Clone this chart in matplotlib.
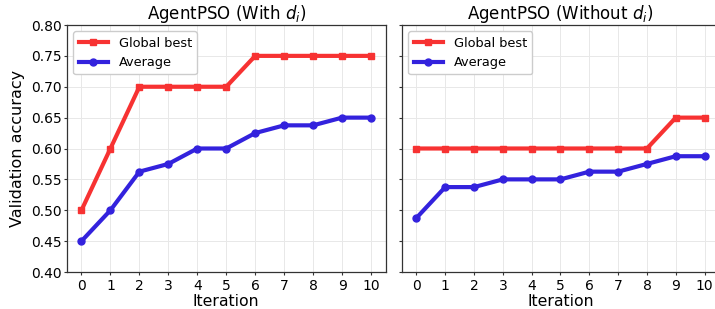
import numpy as np
import matplotlib
matplotlib.use("Agg")
import matplotlib.pyplot as plt

iterations = list(range(11))
best_with = [0.50, 0.60, 0.70, 0.70, 0.70, 0.70, 0.75, 0.75, 0.75, 0.75, 0.75]
avg_with = [0.45, 0.50, 0.5625, 0.575, 0.60, 0.60, 0.625, 0.6375, 0.6375, 0.65, 0.65]
best_without = [0.60, 0.60, 0.60, 0.60, 0.60, 0.60, 0.60, 0.60, 0.60, 0.65, 0.65]
avg_without = [0.4875, 0.5375, 0.5375, 0.55, 0.55, 0.55, 0.5625, 0.5625, 0.575, 0.5875, 0.5875]
titles = ["AgentPSO (With $d_i$)", "AgentPSO (Without $d_i$)"]

red = "#f73232"
blue = "#3322dd"

fig = plt.figure(figsize=(7.15, 3.09), dpi=100)
ax1 = fig.add_axes([67/715, 1-272/309, 318.5/715, 247/309])
ax2 = fig.add_axes([402/715, 1-272/309, 317/715, 247/309], sharey=ax1)

for ax, best, avg, title in [(ax1, best_with, avg_with, titles[0]),
                             (ax2, best_without, avg_without, titles[1])]:
    ax.plot(iterations, best, color=red, marker="s", lw=3, ms=5, label="Global best")
    ax.plot(iterations, avg, color=blue, marker="o", lw=3, ms=5, label="Average")
    ax.set_title(title, fontsize=12, pad=3)
    ax.set_xlabel("Iteration", fontsize=11.3, labelpad=1)
    ax.set_xticks(iterations)
    ax.set_xlim(-0.5, 10.5)
    ax.grid(True, color="#e8e8e8", lw=0.7)
    ax.tick_params(labelsize=10, length=2.5, width=0.8, pad=2.5, color="#333333")
    for s in ax.spines.values():
        s.set_color("#333333")
        s.set_linewidth(0.9)
    ax.legend(loc="upper left", fontsize=9.3, handlelength=2.3, borderaxespad=0.5,
              framealpha=1, edgecolor="#cccccc")

ax1.set_ylim(0.40, 0.80)
ax1.set_yticks(np.arange(0.40, 0.801, 0.05))
ax1.yaxis.set_major_formatter(matplotlib.ticker.FormatStrFormatter("%.2f"))
ax1.tick_params(axis="y", pad=1.5)
ax1.set_ylabel("Validation accuracy", fontsize=11.5, labelpad=4)
plt.setp(ax2.get_yticklabels(), visible=False)

fig.savefig("out.png", dpi=100)
